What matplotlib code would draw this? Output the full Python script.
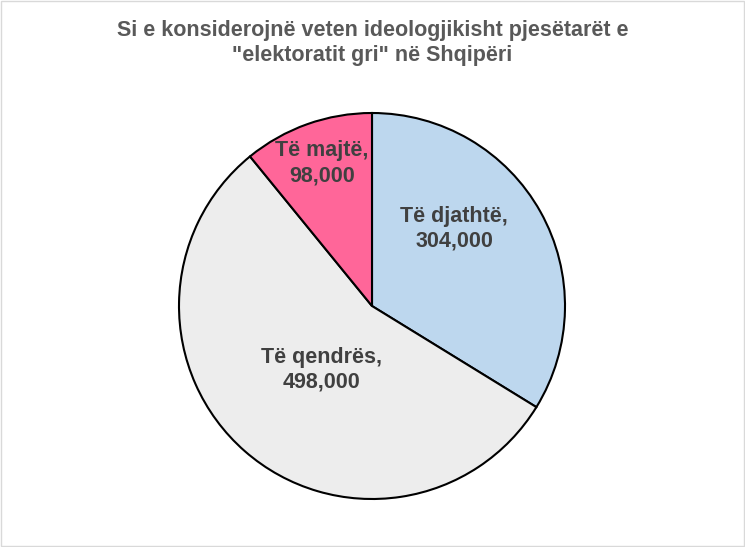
import matplotlib.pyplot as plt
from matplotlib.patches import Rectangle

# Të dhënat
kategorite = ['Të djathtë', 'Të qendrës', 'Të majtë']
vlerat = [304000, 498000, 98000]
ngjyrat = ['#BDD7EE', '#EDEDED', '#FF6699']
# pozicionet e etiketave (ne njesi te rrezes)
etiketa_xy = [(0.425, 0.40), (-0.26, -0.33), (-0.26, 0.74)]

plt.rcParams['font.family'] = ['Liberation Sans', 'DejaVu Sans']
fig = plt.figure(figsize=(7.45, 5.47), dpi=100)

# korniza e figures
fig.patches.append(Rectangle((0.002, 0.002), 0.996, 0.996, transform=fig.transFigure,
                             fill=False, edgecolor='#D9D9D9', linewidth=1))

ax = fig.add_axes([(372 - 193) / 745, (547 - 306 - 193) / 547, 386 / 745, 386 / 547])
wedges, _ = ax.pie(vlerat, colors=ngjyrat, startangle=90, counterclock=False, radius=1,
                   wedgeprops=dict(edgecolor='black', linewidth=1.5))

for k, v, (x, y) in zip(kategorite, vlerat, etiketa_xy):
    ax.text(x, y, f'{k},\n{v:,}', ha='center', va='center', fontsize=15.5,
            fontweight='bold', color='#404040', linespacing=1.25)

ax.set_xlim(-1, 1)
ax.set_ylim(-1, 1)
ax.set_aspect('equal')
ax.axis('off')

fig.text(0.5, 0.922, 'Si e konsiderojnë veten ideologjikisht pjesëtarët e\n"elektoratit gri" në Shqipëri',
         ha='center', va='center', fontsize=15.5, fontweight='bold', color='#595959', linespacing=1.25)

plt.savefig('out.png', dpi=100)
